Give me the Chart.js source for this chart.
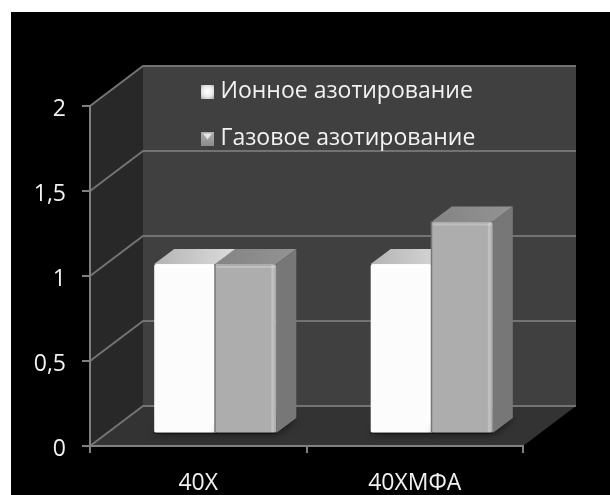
<!DOCTYPE html>
<html lang="ru">
<head>
<meta charset="utf-8">
<title>Азотирование</title>
<style>
  html, body { margin: 0; padding: 0; background: #fff; overflow: hidden; }
  #chart { position: absolute; left: 11px; top: 12px; background: #000; }
</style>
<script src="https://cdn.jsdelivr.net/npm/chart.js@4"></script>
</head>
<body>
<canvas id="chart" width="599" height="483"></canvas>
<script>
// data
const categories = ["40Х", "40ХМФА"];
const seriesNames = ["Ионное азотирование", "Газовое азотирование"];
const ionValues = [1, 1];
const gasValues = [1, 1.25];
const yTickLabels = ["0", "0,5", "1", "1,5", "2"];

// fake 3D: how far the back wall and the bars sit behind the axis plane
const wallDepth = { x: 53, y: -40 };
const barShift = { x: 17, y: -12 };
const barDepth = { x: 20, y: -15 };

const fontFamily = "'Open Sans', sans-serif";
const textColor = "#f2f2f2";
const axisColor = "#808080";
const gridColor = "#737373";

// front, top and side colours of the bars, per dataset
const faces = [
  { front: "#fcfcfc", topFrom: "#b4b4b4", topTo: "#dcdcdc", side: "#dcdcdc", edge: "rgba(255,255,255,0.5)" },
  { front: "#adadad", topFrom: "#848484", topTo: "#939393", side: "#777777", edge: "rgba(255,255,255,0.22)" },
];

function poly(ctx, points, fill) {
  ctx.beginPath();
  points.forEach((p, i) => (i ? ctx.lineTo(p[0], p[1]) : ctx.moveTo(p[0], p[1])));
  ctx.closePath();
  ctx.fillStyle = fill;
  ctx.fill();
}

// shadow, top face and side face go under the bar the library draws
function drawBarBack(ctx, meta, style) {
  ctx.save();
  ctx.translate(barShift.x, barShift.y);
  meta.data.forEach((bar) => {
    const { x, y, base, width } = bar.getProps(["x", "y", "base", "width"], true);
    const l = x - width / 2, r = x + width / 2;
    const dx = barDepth.x, dy = barDepth.y;

    ctx.save();
    ctx.shadowColor = "rgba(0,0,0,0.75)";
    ctx.shadowBlur = 8;
    poly(ctx, [[l, base], [r, base], [r + dx, base + dy], [l + dx, base + dy]], "#222");
    ctx.restore();

    const top = ctx.createLinearGradient(l, 0, r + dx, 0);
    top.addColorStop(0, style.topFrom);
    top.addColorStop(1, style.topTo);
    poly(ctx, [[l, y], [r, y], [r + dx, y + dy], [l + dx, y + dy]], top);
    poly(ctx, [[r, y], [r + dx, y + dy], [r + dx, base + dy], [r, base]], style.side);
  });
}

// soft highlights on the front face, then leave the shifted space
function drawBarFront(ctx, meta, style, seam) {
  meta.data.forEach((bar) => {
    const { x, y, base, width } = bar.getProps(["x", "y", "base", "width"], true);
    const l = x - width / 2, r = x + width / 2;
    ctx.fillStyle = style.edge;
    ctx.fillRect(r - 5, y + 1, 3, base - y - 2);
    ctx.fillRect(l + 1, y + 2, width - 2, 2);
    ctx.fillStyle = "rgba(0,0,0,0.4)";
    ctx.fillRect(l, base - 1, width, 2);
    if (seam) {
      ctx.fillStyle = "#777777";
      ctx.fillRect(l - 1, y, 1.5, base - y);
    }
  });
  ctx.restore();
}

const box3d = {
  id: "box3d",

  // walls, floor and the gridlines running along them
  beforeDraw(chart) {
    const { ctx, chartArea: a, scales } = chart;
    const dx = wallDepth.x, dy = wallDepth.y;
    ctx.save();
    poly(ctx, [[a.left, a.top], [a.left + dx, a.top + dy], [a.left + dx, a.bottom + dy], [a.left, a.bottom]], "#282828");
    poly(ctx, [[a.left + dx, a.top + dy], [a.right + dx, a.top + dy], [a.right + dx, a.bottom + dy], [a.left + dx, a.bottom + dy]], "#404040");
    poly(ctx, [[a.left, a.bottom], [a.right, a.bottom], [a.right + dx, a.bottom + dy], [a.left + dx, a.bottom + dy]], "#333333");

    ctx.strokeStyle = gridColor;
    ctx.lineWidth = 2;
    scales.y.ticks.forEach((t) => {
      const y = scales.y.getPixelForValue(t.value);
      ctx.beginPath();
      ctx.moveTo(a.left, y);
      ctx.lineTo(a.left + dx, y + dy);
      ctx.lineTo(a.right + dx, y + dy);
      ctx.stroke();
    });
    ctx.restore();
  },

  // the right-hand bars have to overlap the left ones, so they wait until last
  beforeDatasetDraw(chart, args) {
    if (args.index === 1) return false;
    drawBarBack(chart.ctx, args.meta, faces[args.index]);
  },

  afterDatasetDraw(chart, args) {
    drawBarFront(chart.ctx, args.meta, faces[args.index], false);
  },

  afterDatasetsDraw(chart) {
    const meta = chart.getDatasetMeta(1);
    drawBarBack(chart.ctx, meta, faces[1]);
    meta.controller.draw();
    drawBarFront(chart.ctx, meta, faces[1], true);
  },

  // the legend sits on the back wall, not in its own layout box
  afterLayout(chart) {
    chart.legend.left = 171;
    chart.legend.top = 44;
    chart.legend.right = 520;
    chart.legend.bottom = 400;
  },
};

// small bevelled squares for the legend
function legendSwatch(index) {
  const c = document.createElement("canvas");
  c.width = 13;
  c.height = 14;
  const g = c.getContext("2d");
  if (index === 0) {
    const fill = g.createRadialGradient(6.5, 7, 1, 6.5, 7, 9);
    fill.addColorStop(0, "#ffffff");
    fill.addColorStop(0.6, "#e6e6e6");
    fill.addColorStop(1, "#b0b0b0");
    g.fillStyle = fill;
    g.fillRect(0, 0, 13, 14);
  } else {
    const fill = g.createLinearGradient(0, 0, 0, 14);
    fill.addColorStop(0, "#b0b0b0");
    fill.addColorStop(1, "#8c8c8c");
    g.fillStyle = fill;
    g.fillRect(0, 0, 13, 14);
    poly(g, [[2, 2], [11, 2], [6.5, 8]], "#e8e8e8");
  }
  return c;
}

new Chart(document.getElementById("chart"), {
  type: "bar",
  data: {
    labels: categories,
    datasets: [
      { label: seriesNames[0], data: ionValues, backgroundColor: faces[0].front, clip: false },
      { label: seriesNames[1], data: gasValues, backgroundColor: faces[1].front, clip: false },
    ],
  },
  options: {
    responsive: false,
    animation: false,
    categoryPercentage: 0.564,
    barPercentage: 1,
    borderRadius: 2,
    borderSkipped: false,
    layout: { padding: { top: 94, right: 87 } },
    scales: {
      x: {
        afterFit(scale) { scale.height = 49; },
        grid: { offset: true, drawOnChartArea: false, color: axisColor, lineWidth: 2, tickLength: 7 },
        border: { color: axisColor, width: 2 },
        ticks: { color: textColor, padding: 17, font: { family: fontFamily, size: 23 }, maxRotation: 0 },
      },
      y: {
        min: 0,
        max: 2,
        afterFit(scale) { scale.width = 79; },
        grid: { drawOnChartArea: false, color: axisColor, lineWidth: 2, tickLength: 8 },
        border: { color: axisColor, width: 2 },
        ticks: {
          stepSize: 0.5,
          color: textColor,
          padding: 16,
          labelOffset: 3,
          font: { family: fontFamily, size: 23 },
          callback: (value, i) => yTickLabels[i],
        },
      },
    },
    plugins: {
      tooltip: { enabled: false },
      legend: {
        position: "chartArea",
        align: "start",
        labels: {
          color: textColor,
          font: { family: fontFamily, size: 23 },
          usePointStyle: true,
          pointStyleWidth: 3,
          boxHeight: 13,
          padding: 24,
          generateLabels(chart) {
            return chart.data.datasets.map((ds, i) => ({
              text: ds.label,
              datasetIndex: i,
              pointStyle: legendSwatch(i),
              fontColor: textColor,
            }));
          },
        },
      },
    },
  },
  plugins: [box3d],
});
</script>
</body>
</html>
